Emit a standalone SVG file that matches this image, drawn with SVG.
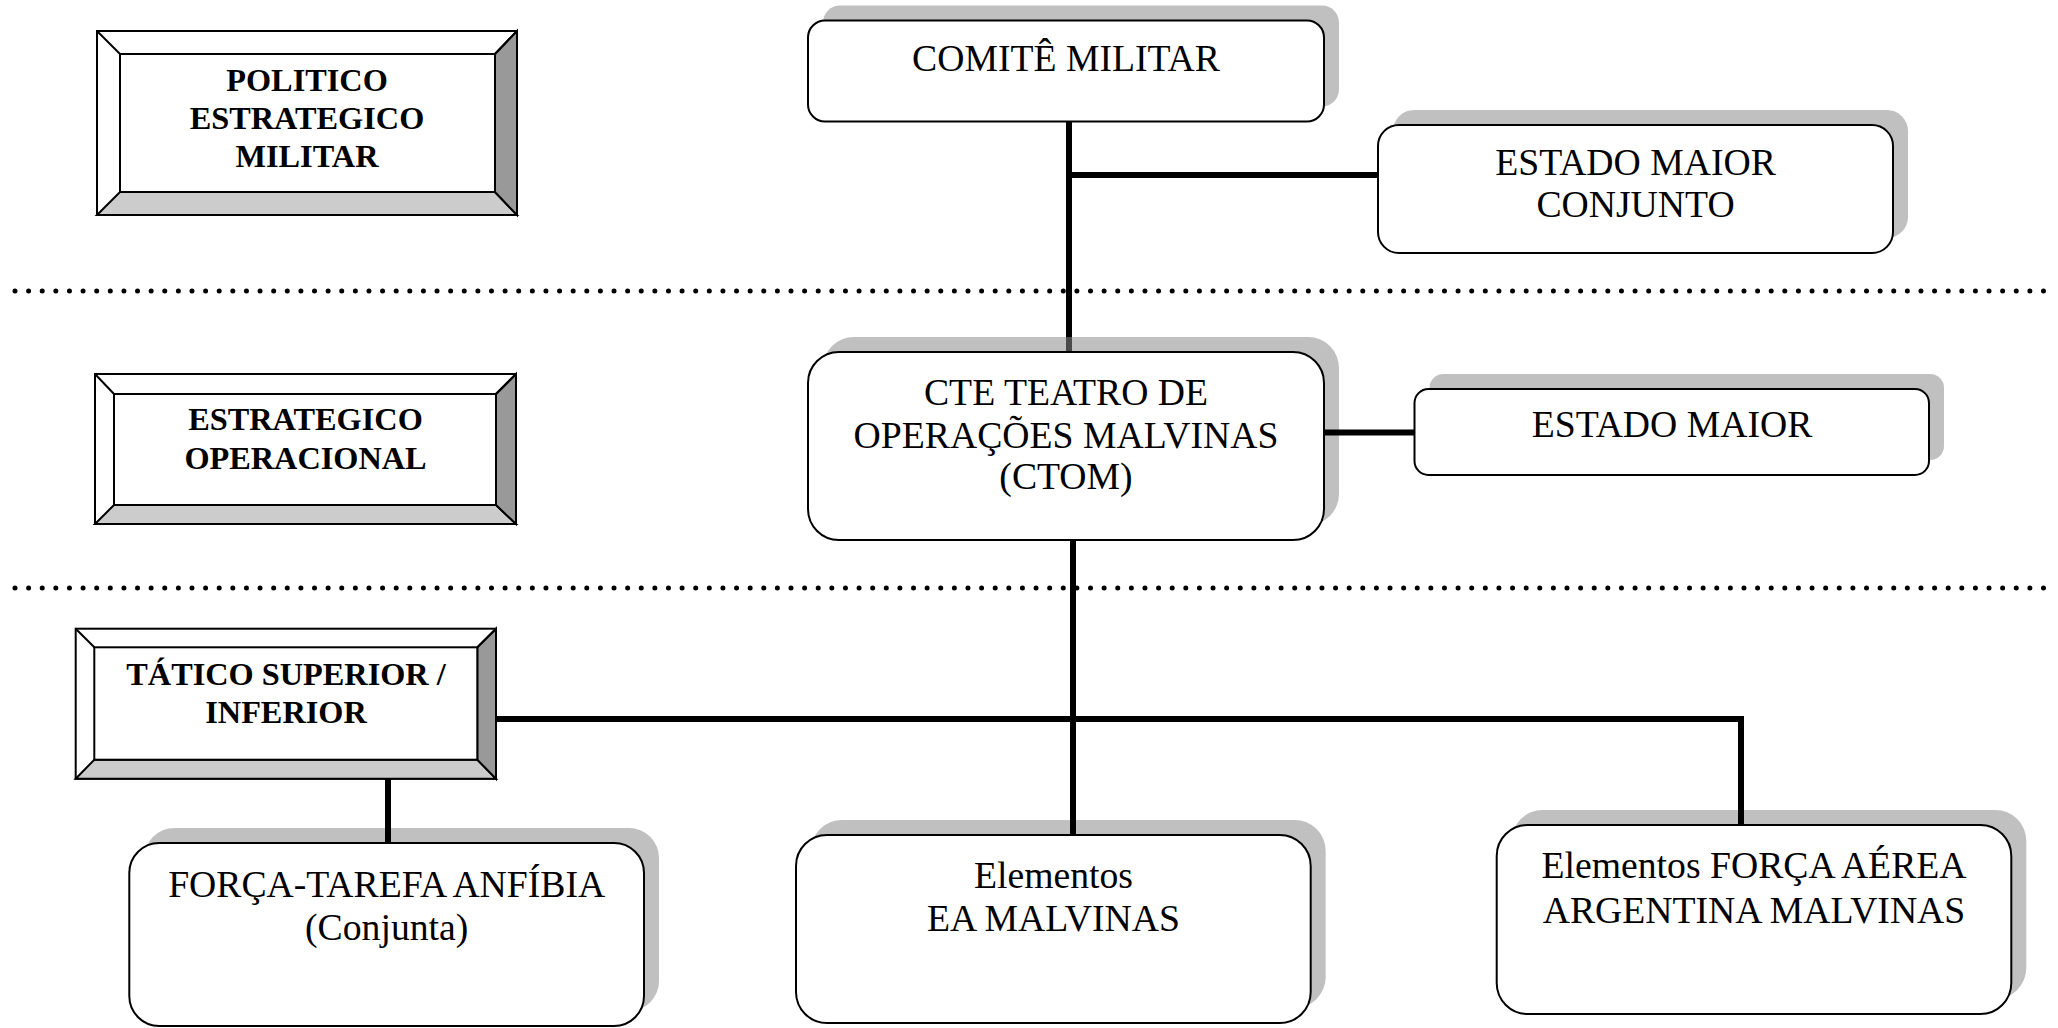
<svg xmlns="http://www.w3.org/2000/svg" width="2058" height="1028" viewBox="0 0 2058 1028">
<style>
.bg{fill:#ffffff}
.shadow{fill:#c0c0c0;stroke:none}
.box{fill:#ffffff;stroke:#000000;stroke-width:2}
.bevel-outer{fill:#ffffff;stroke:#000000;stroke-width:2}
.bevel-inner{fill:#ffffff;stroke:#000000;stroke-width:2}
.bevel-bottom{fill:#cccccc;stroke:#000000;stroke-width:2;stroke-linejoin:miter}
.bevel-right{fill:#999999;stroke:#000000;stroke-width:2;stroke-linejoin:miter}
.bevel-line{stroke:#000000;stroke-width:2;fill:none}
.conn{stroke:#000000;stroke-width:6;fill:none;stroke-linecap:butt;stroke-linejoin:miter}
.conn-dim{stroke:#4a4a4a;stroke-width:6;fill:none;stroke-linecap:butt}
.dots{stroke:#000000;stroke-width:5;stroke-dasharray:0 13.614;stroke-linecap:round;fill:none}
.t{font-family:"Liberation Serif","Times New Roman",serif;font-size:37.7px;fill:#000000;text-anchor:middle}
.tb{font-family:"Liberation Serif","Times New Roman",serif;font-size:32.3px;font-weight:bold;fill:#000000;text-anchor:middle}
</style>
<rect class="bg" x="0" y="0" width="2058" height="1028"/>

<g id="separators">
<line class="dots" x1="15" y1="291" x2="2043.6" y2="291"/>
<line class="dots" x1="15" y1="588" x2="2043.6" y2="588"/>
</g>

<g id="level-politico">
<rect class="bevel-outer" x="97" y="31" width="420" height="184"/>
<polygon class="bevel-bottom" points="97,215 120,192 495,192 517,215"/>
<polygon class="bevel-right" points="517,31 495,54 495,192 517,215"/>
<line class="bevel-line" x1="97" y1="31" x2="120" y2="54"/>
<line class="bevel-line" x1="517" y1="31" x2="495" y2="54"/>
<rect class="bevel-inner" x="120" y="54" width="375" height="138"/>
<text class="tb" x="307" y="91">POLITICO</text>
<text class="tb" x="307" y="129">ESTRATEGICO</text>
<text class="tb" x="307" y="167">MILITAR</text>
</g>

<g id="level-estrategico">
<rect class="bevel-outer" x="95" y="374" width="421" height="150"/>
<polygon class="bevel-bottom" points="95,524 114,505 496,505 516,524"/>
<polygon class="bevel-right" points="516,374 496,394 496,505 516,524"/>
<line class="bevel-line" x1="95" y1="374" x2="114" y2="394"/>
<line class="bevel-line" x1="516" y1="374" x2="496" y2="394"/>
<rect class="bevel-inner" x="114" y="394" width="382" height="111"/>
<text class="tb" x="305.5" y="430">ESTRATEGICO</text>
<text class="tb" x="305.5" y="469">OPERACIONAL</text>
</g>

<g id="level-tatico">
<rect class="bevel-outer" x="75.7" y="628.7" width="420.3" height="150"/>
<polygon class="bevel-bottom" points="75.7,778.7 94.3,759.7 477.3,759.7 496,778.7"/>
<polygon class="bevel-right" points="496,628.7 477.3,647.3 477.3,759.7 496,778.7"/>
<line class="bevel-line" x1="75.7" y1="628.7" x2="94.3" y2="647.3"/>
<line class="bevel-line" x1="496" y1="628.7" x2="477.3" y2="647.3"/>
<rect class="bevel-inner" x="94.3" y="647.3" width="383" height="112.4"/>
<text class="tb" x="286" y="685">TÁTICO SUPERIOR /</text>
<text class="tb" x="286" y="723">INFERIOR</text>
</g>

<g id="comite-militar">
<rect class="shadow" x="823" y="5.5" width="516" height="101" rx="17"/>
<rect class="box" x="808" y="20.5" width="516" height="101" rx="17"/>
<text class="t" x="1066" y="70.7">COMITÊ MILITAR</text>
</g>

<g id="estado-maior-conjunto">
<rect class="shadow" x="1393" y="110" width="515" height="128" rx="21"/>
<rect class="box" x="1378" y="125" width="515" height="128" rx="21"/>
<text class="t" x="1635.5" y="175">ESTADO MAIOR</text>
<text class="t" x="1635.5" y="217">CONJUNTO</text>
</g>

<g id="ctom">
<rect class="shadow" x="823" y="337" width="516" height="188" rx="31"/>
<rect class="box" x="808" y="352" width="516" height="188" rx="31"/>
<text class="t" x="1066" y="405.4">CTE TEATRO DE</text>
<text class="t" x="1066" y="448.2">OPERAÇÕES MALVINAS</text>
<text class="t" x="1066" y="489.3">(CTOM)</text>
</g>

<g id="estado-maior">
<rect class="shadow" x="1429.5" y="374" width="514.5" height="86" rx="14"/>
<rect class="box" x="1414.5" y="389" width="514.5" height="86" rx="14"/>
<text class="t" x="1672" y="436.7">ESTADO MAIOR</text>
</g>

<g id="forca-tarefa">
<rect class="shadow" x="144.3" y="828" width="514.7" height="183" rx="30"/>
<rect class="box" x="129.3" y="843" width="514.7" height="183" rx="30"/>
<text class="t" x="386.7" y="897">FORÇA-TAREFA ANFÍBIA</text>
<text class="t" x="386.7" y="940">(Conjunta)</text>
</g>

<g id="elementos-ea">
<rect class="shadow" x="811" y="820" width="514.7" height="188" rx="31"/>
<rect class="box" x="796" y="835" width="514.7" height="188" rx="31"/>
<text class="t" x="1053.5" y="888">Elementos</text>
<text class="t" x="1053.5" y="931">EA MALVINAS</text>
</g>

<g id="elementos-faa">
<rect class="shadow" x="1511.7" y="810" width="514.6" height="189" rx="31"/>
<rect class="box" x="1496.7" y="825" width="514.6" height="189" rx="31"/>
<text class="t" x="1754" y="878">Elementos FORÇA AÉREA</text>
<text class="t" x="1754" y="923">ARGENTINA MALVINAS</text>
</g>

<g id="connectors">
<line class="conn" x1="1069" y1="121.5" x2="1069" y2="337"/>
<line class="conn-dim" x1="1069" y1="337" x2="1069" y2="351"/>
<line class="conn" x1="1069" y1="175" x2="1378" y2="175"/>
<line class="conn" x1="1324" y1="432.5" x2="1414.5" y2="432.5"/>
<line class="conn" x1="1073" y1="540" x2="1073" y2="835"/>
<polyline class="conn" points="496,719 1741,719 1741,825"/>
<line class="conn" x1="388" y1="778.7" x2="388" y2="843"/>
</g>
</svg>
